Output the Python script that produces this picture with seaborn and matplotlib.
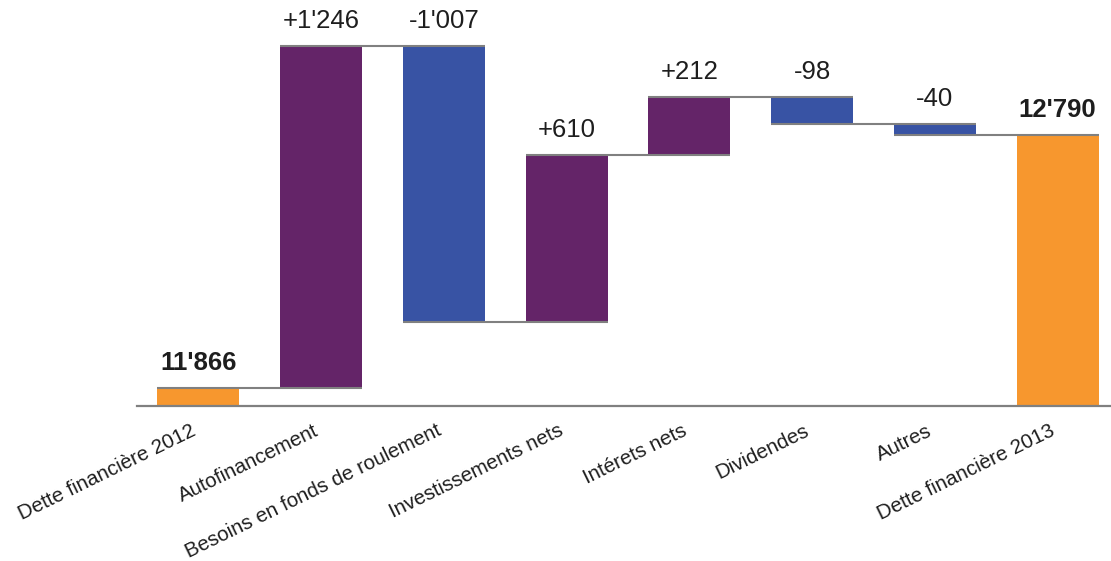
import numpy as np
import pandas as pd
import matplotlib
matplotlib.use("Agg")
import matplotlib.pyplot as plt
import seaborn as sns

# Net financial debt bridge 2012 -> 2013
categories = [
    "Dette financière 2012",
    "Autofinancement",
    "Besoins en fonds de roulement",
    "Investissements nets",
    "Intérets nets",
    "Dividendes",
    "Autres",
    "Dette financière 2013",
]
debt_start = 11866
changes = [1246, -1007, 610, 212, -98, -40]
debt_end = 12790
axis_floor = 11800

sns.set_theme(style="white")
plt.rcParams["font.family"] = ["Liberation Sans", "DejaVu Sans"]

orange = "#F7972E"
purple = "#642468"
blue = "#3853A4"
grey = "#808080"
text_color = "#1E1E1E"

# Build bar extents for the waterfall
levels = [debt_start]
for c in changes:
    levels.append(levels[-1] + c)

lows, heights, colors, labels, bold = [], [], [], [], []
lows.append(axis_floor)
heights.append(debt_start - axis_floor)
colors.append(orange)
labels.append(f"{debt_start:,}".replace(",", "'"))
bold.append(True)
for i, c in enumerate(changes):
    before, after = levels[i], levels[i + 1]
    lows.append(min(before, after))
    heights.append(abs(c))
    colors.append(purple if c > 0 else blue)
    labels.append(f"{c:+,}".replace(",", "'"))
    bold.append(False)
lows.append(axis_floor)
heights.append(debt_end - axis_floor)
colors.append(orange)
labels.append(f"{debt_end:,}".replace(",", "'"))
bold.append(True)

df = pd.DataFrame({"poste": categories, "hauteur": heights})

fig = plt.figure(figsize=(11.11, 5.61), dpi=100)
ax = fig.add_axes([137 / 1111, 1 - 406 / 561, 982 / 1111, 406 / 561])

bar_w = 0.668
sns.barplot(data=df, x="poste", y="hauteur", order=categories,
            bottom=np.array(lows, dtype=float), width=bar_w, color=orange,
            errorbar=None, ax=ax, linewidth=0, saturation=1)
for patch, col in zip(ax.patches, colors):
    patch.set_facecolor(col)
    patch.set_edgecolor(col)

# Connector lines between consecutive bars
for i in range(len(categories) - 1):
    ax.hlines(levels[i], i - bar_w / 2, i + 1 + bar_w / 2,
              colors=grey, linewidth=1.5, zorder=5)

# Value labels above each bar
for i, (lo, h, lab, b) in enumerate(zip(lows, heights, labels, bold)):
    ax.annotate(lab, (i, lo + h), xytext=(0, 9), textcoords="offset points",
                ha="center", va="bottom", fontsize=18.5,
                fontweight="bold" if b else "normal", color=text_color)

ax.set_xlim(-0.5, 7.5)
ax.set_ylim(axis_floor, axis_floor + 406 / 0.2745)
ax.set_xlabel("")
ax.set_ylabel("")
ax.set_yticks([])
for side in ["top", "right", "left"]:
    ax.spines[side].set_visible(False)
ax.spines["bottom"].set_color(grey)
ax.spines["bottom"].set_linewidth(1.6)
ax.tick_params(axis="x", length=0, pad=11)
ax.set_xticks(range(len(categories)))
ax.set_xticklabels(categories, rotation=26, ha="right", fontsize=14.8,
                   color=text_color)

fig.savefig("out.png", dpi=100)
